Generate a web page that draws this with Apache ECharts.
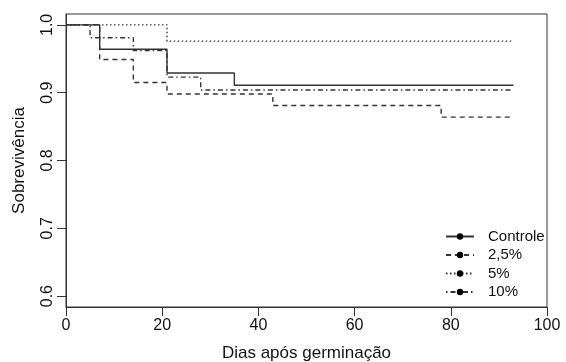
<!DOCTYPE html>
<html>
<head>
<meta charset="utf-8">
<script src="https://cdn.jsdelivr.net/npm/echarts@6/dist/echarts.min.js"></script>
<style>
  html, body { margin: 0; padding: 0; background: #fff; }
  #chart { width: 566px; height: 362px; }
</style>
</head>
<body>
<div id="chart"></div>
<script>
// Kaplan-Meier curves: event times (days) and survival
const groups = ['Controle', '2,5%', '5%', '10%'];
const controleT = [0, 7, 21, 35, 93];
const controleS = [1.0, 0.964, 0.929, 0.911, 0.911];
const dose25T = [0, 7, 14, 21, 43, 78, 93];
const dose25S = [1.0, 0.949, 0.915, 0.898, 0.881, 0.864, 0.864];
const dose5T = [0, 21, 93];
const dose5S = [1.0, 0.976, 0.976];
const dose10T = [0, 5, 14, 21, 28, 93];
const dose10S = [1.0, 0.981, 0.962, 0.923, 0.904, 0.904];
const xTicks = [0, 20, 40, 60, 80, 100];
const yTicks = [0.6, 0.7, 0.8, 0.9, 1.0];

const lineColor = '#333';
const dashes = ['solid', [5, 4], [1.5, 2.5], [1.5, 3, 5, 3]];
const times = [controleT, dose25T, dose5T, dose10T];
const surv = [controleS, dose25S, dose5S, dose10S];

const chart = echarts.init(document.getElementById('chart'));
const font = 'Liberation Sans, Arial, sans-serif';

chart.setOption({
  animation: false,
  grid: {
    left: 66, right: 19, top: 14, bottom: 55, outerBoundsMode: 'none',
    show: true, borderColor: lineColor, borderWidth: 1
  },
  xAxis: {
    type: 'value', min: 0, max: 100, interval: 20,
    name: 'Dias após germinação', nameLocation: 'middle', nameGap: 38,
    nameTextStyle: { fontFamily: font, fontSize: 17, color: '#111' },
    axisLine: { lineStyle: { color: lineColor } },
    axisTick: { length: 9, lineStyle: { color: lineColor } },
    axisLabel: { fontFamily: font, fontSize: 16, color: '#111', margin: 11, customValues: xTicks },
    splitLine: { show: false }
  },
  yAxis: {
    type: 'value', min: 0.6 - 0.016, max: 1.0 + 0.016,
    name: 'Sobrevivência', nameLocation: 'middle', nameGap: 38,
    nameTextStyle: { fontFamily: font, fontSize: 17, color: '#111' },
    axisLine: { show: true, lineStyle: { color: lineColor } },
    axisTick: { show: true, length: 9, customValues: yTicks, lineStyle: { color: lineColor } },
    axisLabel: {
      fontFamily: font, fontSize: 16, color: '#111', rotate: 90, margin: 10,
      customValues: yTicks, formatter: v => v.toFixed(1)
    },
    splitLine: { show: false }
  },
  legend: {
    orient: 'vertical', left: 440, top: 224, itemGap: 3.5,
    itemWidth: 28, itemHeight: 8,
    textStyle: { fontFamily: font, fontSize: 15, color: '#111', padding: [0, 0, 0, 9] },
    data: groups
  },
  series: groups.map((g, i) => ({
    name: g,
    type: 'line',
    step: 'end',
    symbol: 'circle', symbolSize: 7, showSymbol: false,
    itemStyle: { color: '#000' },
    lineStyle: { color: lineColor, width: 1.4, type: dashes[i] },
    data: times[i].map((t, k) => [t, surv[i][k]])
  }))
});
</script>
</body>
</html>
